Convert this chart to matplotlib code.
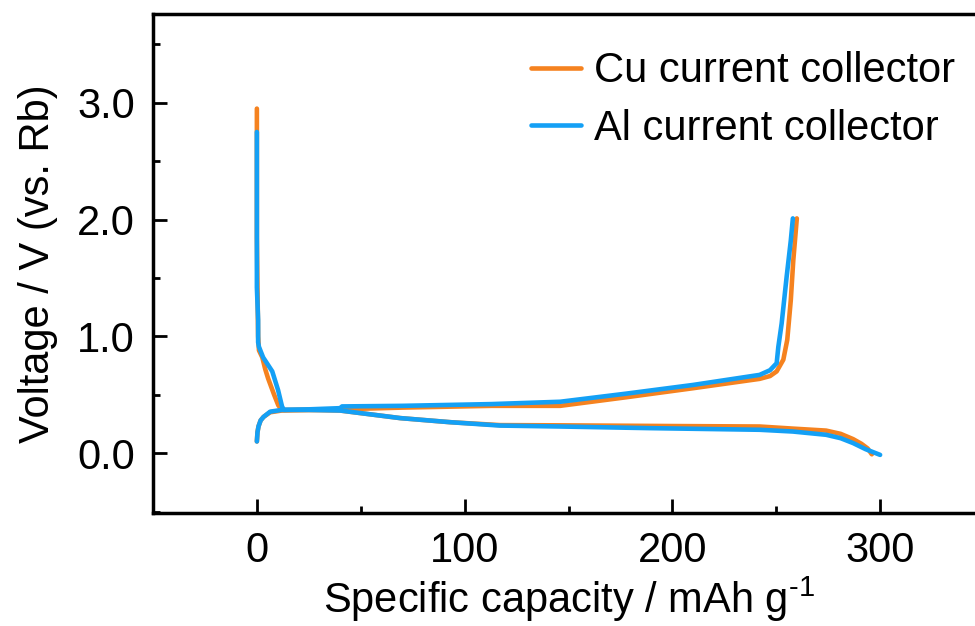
import numpy as np
from matplotlib import pyplot as plt
from matplotlib.ticker import MultipleLocator, FormatStrFormatter

plt.rcParams['font.family'] = ['Liberation Sans', 'DejaVu Sans']
plt.rcParams['mathtext.fontset'] = 'custom'
plt.rcParams['mathtext.rm'] = 'Liberation Sans'
plt.rcParams['mathtext.it'] = 'Liberation Sans'

FONT = 30

# Cu current collector: discharge then charge (capacity in mAh/g, voltage in V)
cu_dis_x = [0, 0, 0.3, 0.6, 1.0, 2.6, 4.0, 5.4, 8.3, 10.3, 12, 25, 40, 69, 93, 117,
            146, 200, 242, 258, 274, 281, 287, 291, 294, 296]
cu_dis_v = [2.95, 1.85, 1.4, 1.0, 0.88, 0.82, 0.72, 0.64, 0.50, 0.41, 0.37, 0.37, 0.365,
            0.30, 0.265, 0.24, 0.238, 0.232, 0.228, 0.21, 0.193, 0.165, 0.12, 0.08, 0.04, -0.01]
cu_chg_x = [0, 0.3, 0.8, 1.8, 3.2, 6.4, 12, 25, 40, 70, 113, 146, 178, 210, 242, 247,
            250.2, 253.4, 255.3, 257, 258.2, 259.9]
cu_chg_v = [0.10, 0.18, 0.23, 0.28, 0.31, 0.35, 0.365, 0.37, 0.375, 0.39, 0.405, 0.405,
            0.479, 0.556, 0.636, 0.66, 0.70, 0.80, 0.97, 1.31, 1.65, 2.01]

# Al current collector
al_dis_x = [0, 0, 0.6, 0.6, 1.0, 3.0, 7.4, 10.2, 12.1, 13, 25, 40, 69, 93, 117,
            146, 189, 242, 258, 274, 281, 287, 293, 300]
al_dis_v = [2.75, 1.42, 1.14, 0.95, 0.91, 0.82, 0.70, 0.54, 0.40, 0.37, 0.37, 0.365,
            0.30, 0.265, 0.236, 0.228, 0.214, 0.20, 0.185, 0.157, 0.128, 0.086, 0.034, -0.015]
al_chg_x = [0, 0.3, 0.8, 1.8, 3.2, 6.4, 12, 25, 40, 41, 70, 113, 146, 178, 210, 242,
            247, 250.2, 251, 252.6, 255, 257, 258]
al_chg_v = [0.10, 0.18, 0.23, 0.28, 0.31, 0.355, 0.37, 0.375, 0.385, 0.40, 0.405, 0.42,
            0.44, 0.51, 0.584, 0.67, 0.71, 0.77, 0.91, 1.11, 1.51, 1.82, 2.01]

labels = ["Cu current collector", "Al current collector"]
colors = ["#F5821F", "#14A0F5"]

fig = plt.figure(figsize=(9.75, 6.26), dpi=100)
ax = fig.add_axes([153 / 975, 113.3 / 626, 831 / 975, 498.7 / 626])

ax.plot(cu_dis_x, cu_dis_v, color=colors[0], lw=3.3, label=labels[0], solid_capstyle='round')
ax.plot(cu_chg_x, cu_chg_v, color=colors[0], lw=3.3, solid_capstyle='round')
ax.plot(al_dis_x, al_dis_v, color=colors[1], lw=3.3, label=labels[1], solid_capstyle='round')
ax.plot(al_chg_x, al_chg_v, color=colors[1], lw=3.3, solid_capstyle='round')

ax.set_xlim(-50, 350)
ax.set_ylim(-0.51, 3.76)
ax.xaxis.set_major_locator(MultipleLocator(100))
ax.xaxis.set_minor_locator(MultipleLocator(50))
ax.yaxis.set_major_locator(MultipleLocator(1.0))
ax.yaxis.set_minor_locator(MultipleLocator(0.5))
ax.yaxis.set_major_formatter(FormatStrFormatter('%.1f'))

for s in ax.spines.values():
    s.set_linewidth(2.5)
ax.tick_params(which='both', direction='in', width=2.0, labelsize=FONT,
               top=False, right=False)
ax.tick_params(axis='x', which='major', length=10, pad=13)
ax.tick_params(axis='y', which='major', length=10, pad=13)
ax.tick_params(which='minor', length=5)

ax.set_xlabel("Specific capacity / mAh g$^{\\mathregular{\\text{-}1}}$", fontsize=FONT, labelpad=3)
ax.set_ylabel("Voltage / V (vs. Rb)", fontsize=FONT, labelpad=14)

ax.legend(loc='upper left', bbox_to_anchor=(0.455, 0.925), frameon=False,
          fontsize=FONT, handlelength=1.2, handletextpad=0.3, labelspacing=0.42,
          borderpad=0, borderaxespad=0)

fig.savefig("out.png", dpi=100)
